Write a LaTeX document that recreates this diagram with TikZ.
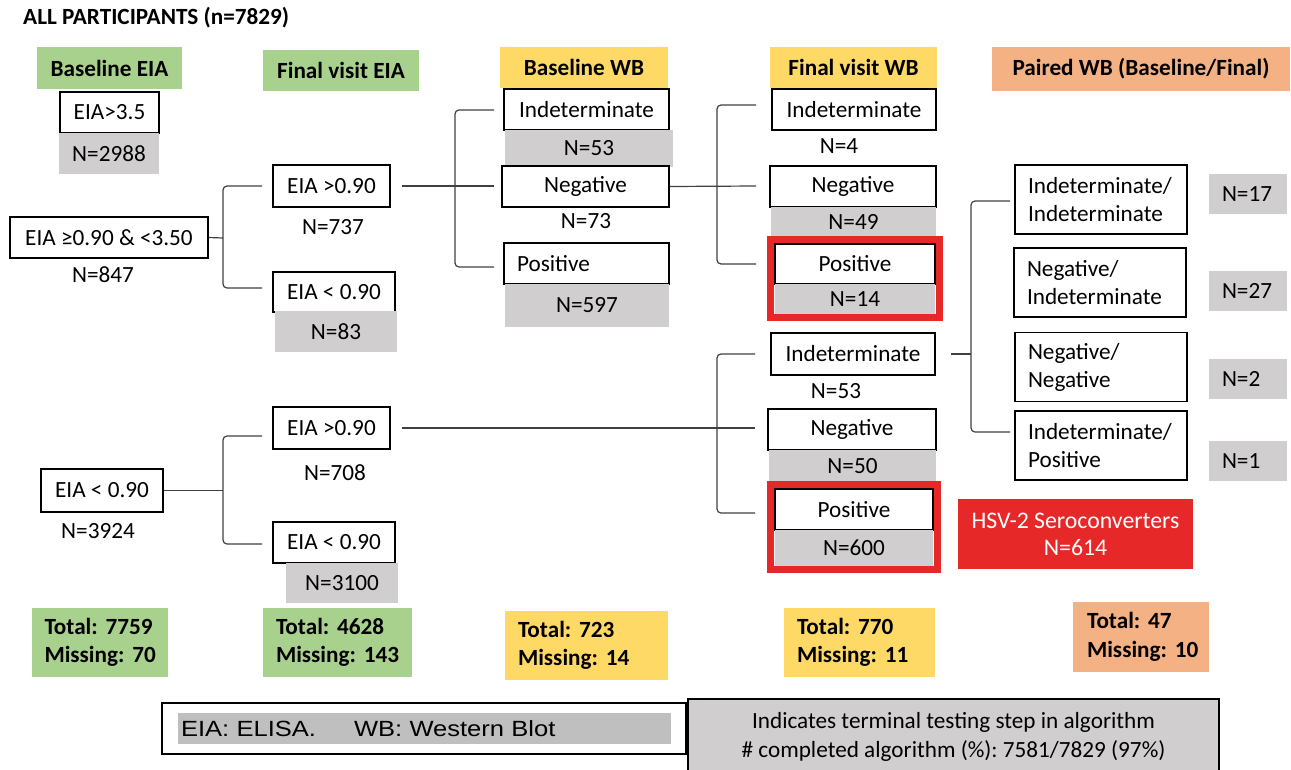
\documentclass[tikz,border=0pt]{standalone}
\usepackage{fontspec}
\setmainfont{Carlito}
\newfontfamily\legendfont[FakeStretch=1.16]{Liberation Sans}
\usetikzlibrary{fit}
\definecolor{hdrgreen}{HTML}{A9D18E}
\definecolor{hdryellow}{HTML}{FFD966}
\definecolor{hdrorange}{HTML}{F4B183}
\definecolor{numgray}{HTML}{D0CECE}
\definecolor{legendgray}{HTML}{BFBFBF}
\definecolor{hsvred}{HTML}{E62828}
\definecolor{linkgray}{HTML}{404040}
\frenchspacing

\begin{document}
\begin{tikzpicture}[x=1pt, y=-1pt,
  every node/.style={font=\fontsize{23.2}{28}\selectfont, inner sep=0pt},
  box/.style={draw=black, line width=1.5pt, fill=white},
  num/.style={fill=numgray},
  hdr/.style={font=\fontsize{23.2}{28}\selectfont\bfseries},
  pbox/.style={box, text width=146, align=left, inner xsep=13, minimum height=69},
  pnum/.style={num, text width=52, align=left, inner xsep=13, minimum height=40},
  tot/.style={font=\fontsize{23.2}{28.5}\selectfont\bfseries, align=left, inner xsep=13},
  link/.style={draw=linkgray, line width=1.2pt, rounded corners=4pt},
  redframe/.style={draw=hsvred, line width=7pt, inner sep=3.5}]
\useasboundingbox (0,0) rectangle (1291,769);

\node [anchor=west, hdr] (0) at (23,18) {ALL PARTICIPANTS (n=7829)};

\node [hdr, fill=hdrgreen, minimum width=145, minimum height=42] (1) at (109.5,68) {Baseline EIA};
\node [hdr, fill=hdrgreen, minimum width=156, minimum height=41] (2) at (341,70.5) {Final visit EIA};
\node [hdr, fill=hdryellow, minimum width=168, minimum height=41] (3) at (584,67.5) {Baseline WB};
\node [hdr, fill=hdryellow, minimum width=167, minimum height=41] (4) at (853.5,67.5) {Final visit WB};
\node [hdr, fill=hdrorange, minimum width=298, minimum height=44] (5) at (1141,69) {Paired WB (Baseline/Final)};

\node [box, minimum width=99, minimum height=41] (6) at (109.5,112.5) {EIA>3.5};
\node [num, minimum width=100, minimum height=41] (7) at (109,153.5) {N=2988};
\node [box, minimum width=198, minimum height=41] (8) at (109,237.5) {EIA ≥0.90 \& <3.50};
\node [] (9) at (103,275) {N=847};
\node [box, minimum width=122, minimum height=43] (10) at (102,490.5) {EIA < 0.90};
\node [] (11) at (98,531) {N=3924};

\node [box, minimum width=117, minimum height=42] (12) at (331.5,186) {EIA >0.90};
\node [] (13) at (333,227) {N=737};
\node [box, minimum width=122, minimum height=40] (14) at (334,292) {EIA < 0.90};
\node [num, minimum width=122, minimum height=41] (15) at (336,331.5) {N=83};
\node [box, minimum width=117, minimum height=42] (16) at (331.5,428) {EIA >0.90};
\node [] (17) at (335,473) {N=708};
\node [box, minimum width=122, minimum height=41] (18) at (334,542.5) {EIA < 0.90};
\node [num, minimum width=112, minimum height=40] (19) at (342,583) {N=3100\hspace{16pt}};

\node [box, minimum width=165, minimum height=41] (20) at (586.5,109.5) {Indeterminate};
\node [num, minimum width=168, minimum height=37] (21) at (589,148.5) {N=53};
\node [box, minimum width=167, minimum height=41] (22) at (585.5,186.5) {Negative};
\node [] (23) at (586,221) {N=73};
\node [box, minimum height=41, text width=139, align=left, inner xsep=13] (24) at (586.5,263.5) {Positive};
\node [num, minimum width=164, minimum height=43] (25) at (587,305.5) {N=597};

\node [box, minimum width=164, minimum height=41] (26) at (854,109.5) {Indeterminate};
\node [] (27) at (839,146) {N=4};
\node [box, minimum width=166, minimum height=41] (28) at (853,186.5) {Negative};
\node [num, minimum width=165, minimum height=30] (29) at (853.5,222) {N=49};
\node [box, minimum width=160, minimum height=40] (30) at (855,264) {Positive};
\node [num, minimum width=160, minimum height=30] (31) at (855,299) {N=14};
\node [redframe, fit=(30)(31)] (32) {};

\node [box, minimum width=164, minimum height=42] (33) at (853,354) {Indeterminate};
\node [] (34) at (836,391) {N=53};
\node [box, minimum width=168, minimum height=41] (35) at (852,429.5) {Negative};
\node [num, minimum width=167, minimum height=32] (36) at (852.5,466) {N=50};
\node [box, minimum width=158, minimum height=41] (37) at (854,509.5) {Positive};
\node [num, minimum width=158, minimum height=36] (38) at (854,548) {N=600};
\node [redframe, fit=(37)(38)] (39) {};
\node [fill=hsvred, text=white, minimum width=235, minimum height=70, align=center,
  font=\fontsize{23.8}{27}\selectfont] (40) at (1075.5,534) {HSV-2 Seroconverters\\N=614};

\node [pbox] (41) at (1101,199.5) {Indeterminate/\\Indeterminate};
\node [pbox] (42) at (1100,282.5) {Negative/\\Indeterminate};
\node [pbox] (43) at (1101,367) {Negative/\\Negative};
\node [pbox] (44) at (1101,445.5) {Indeterminate/\\Positive};
\node [pnum] (45) at (1248,194) {N=17};
\node [pnum] (46) at (1248,290.5) {N=27};
\node [pnum] (47) at (1248,379) {N=2};
\node [pnum] (48) at (1248,461) {N=1};

\node [tot, fill=hdrgreen, text width=110, minimum height=69] (49) at (99.5,642.5) {\mbox{Total: 7759}\\\mbox{Missing: 70}};
\node [tot, fill=hdrgreen, text width=123, minimum height=69] (50) at (337.5,642.5) {\mbox{Total: 4628}\\\mbox{Missing: 143}};
\node [tot, fill=hdryellow, text width=137, minimum height=69] (51) at (586.5,645.5) {\mbox{Total: 723}\\\mbox{Missing: 14}};
\node [tot, fill=hdryellow, text width=125, minimum height=69] (52) at (859.5,642.5) {\mbox{Total: 770}\\\mbox{Missing: 11}};
\node [tot, fill=hdrorange, text width=108, inner xsep=14, minimum height=70] (53) at (1141,637) {\mbox{Total: 47}\\\mbox{Missing: 10}};

\node [draw=black, line width=1.5pt, fill=white, minimum width=524, minimum height=51] (54) at (424,728.5) {};
\node [fill=legendgray, text width=487, inner xsep=3, minimum height=31, align=left,
  font=\legendfont\fontsize{22}{28}\selectfont] (55) at (424.5,728.5) {EIA: ELISA.\hspace{38pt}WB: Western Blot};
\node [draw=black, line width=1.5pt, fill=numgray, minimum width=531, minimum height=76, align=center,
  font=\fontsize{23.2}{29}\selectfont] (56) at (953.5,737) {Indicates terminal testing step in algorithm\\\# completed algorithm (\%): 7581/7829 (97\%)};

\node [] (57) at (223,186) {};
\node [] (58) at (262,186) {};
\node [] (59) at (223,288) {};
\node [] (60) at (262,288) {};
\node [] (61) at (223,238) {};
\draw [link] (58.center) -- (57.center) -- (59.center) -- (60.center);
\draw [link] (8.east) -- (61.center);

\node [] (62) at (494,110) {};
\node [] (63) at (455,110) {};
\node [] (64) at (455,267) {};
\node [] (65) at (494,267) {};
\node [] (66) at (494,186) {};
\draw [link] (62.center) -- (63.center) -- (64.center) -- (65.center);
\draw [link, shorten <=11pt] (12.east) -- (66.center);

\node [] (67) at (756,105) {};
\node [] (68) at (717,105) {};
\node [] (69) at (717,264) {};
\node [] (70) at (756,264) {};
\node [] (71) at (756,186) {};
\draw [link] (67.center) -- (68.center) -- (69.center) -- (70.center);
\draw [link] (22.east) -- (71.center);

\node [] (72) at (755,354) {};
\node [] (73) at (717,354) {};
\node [] (74) at (717,513) {};
\node [] (75) at (755,513) {};
\node [] (76) at (755,428) {};
\draw [link] (72.center) -- (73.center) -- (74.center) -- (75.center);
\draw [link, shorten <=11pt] (16.east) -- (76.center);

\node [] (77) at (262,436) {};
\node [] (78) at (223,436) {};
\node [] (79) at (223,544) {};
\node [] (80) at (262,544) {};
\node [] (81) at (223,490.5) {};
\draw [link] (77.center) -- (78.center) -- (79.center) -- (80.center);
\draw [link] (10.east) -- (81.center);

\node [] (82) at (1010,201) {};
\node [] (83) at (971,201) {};
\node [] (84) at (971,432) {};
\node [] (85) at (1010,432) {};
\node [] (86) at (971,354) {};
\draw [link] (82.center) -- (83.center) -- (84.center) -- (85.center);
\draw [link, shorten <=15pt] (33.east) -- (86.center);
\end{tikzpicture}
\end{document}
